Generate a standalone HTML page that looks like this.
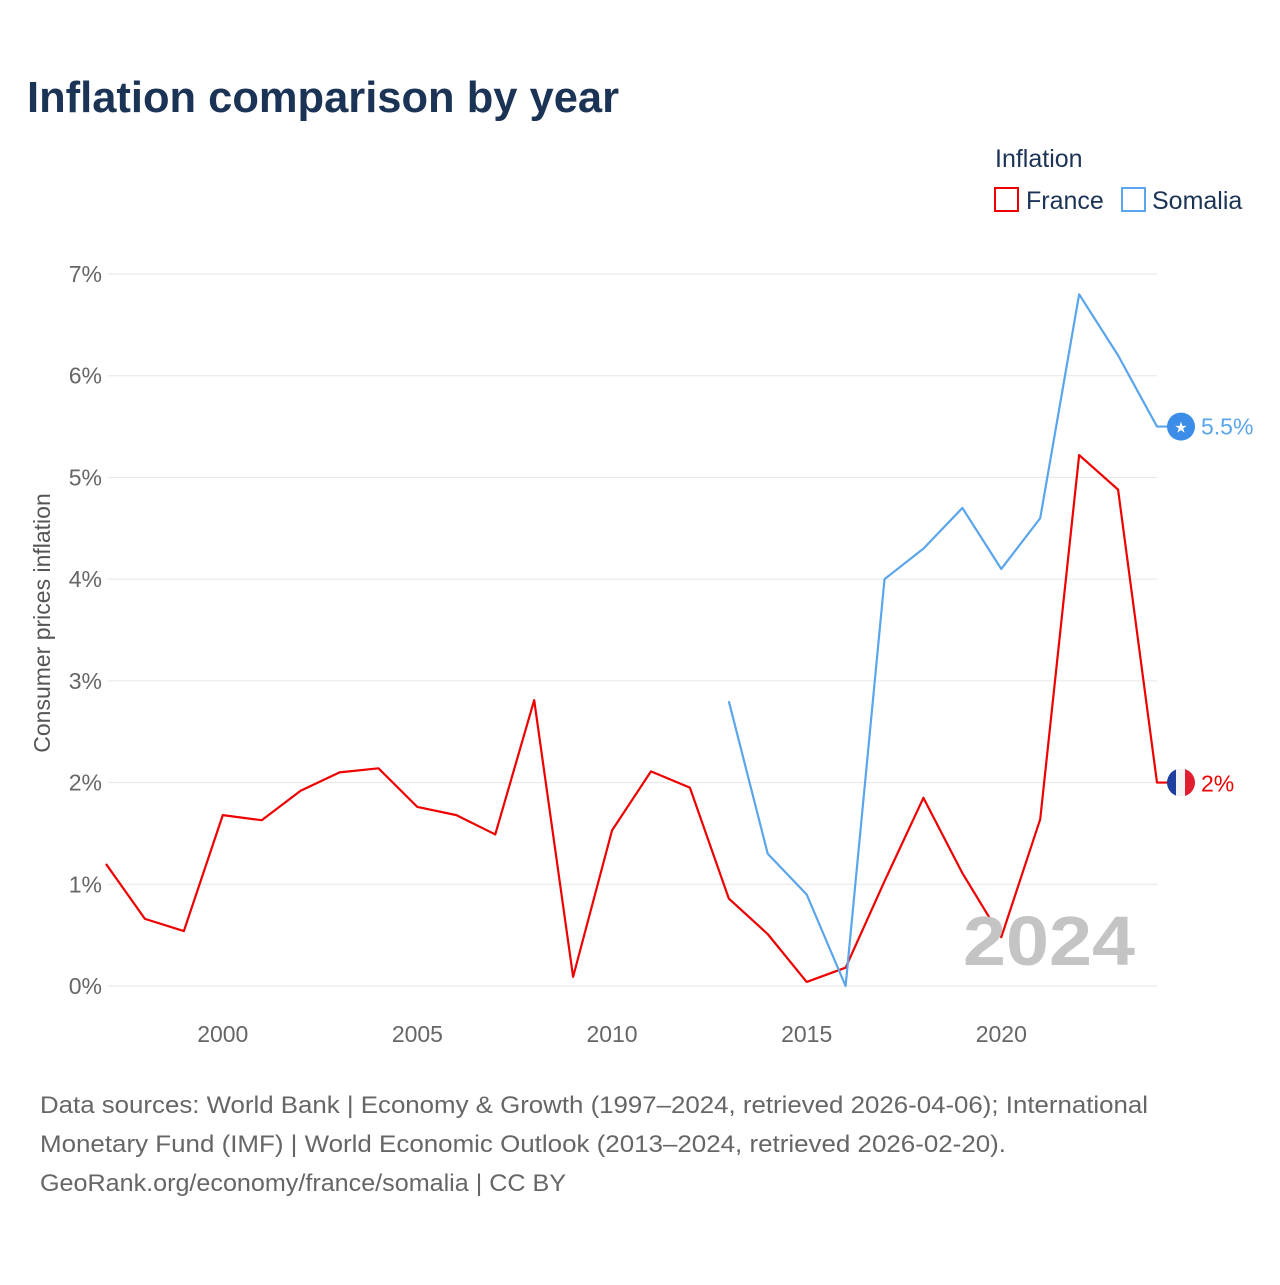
<!DOCTYPE html>
<html><head><meta charset="utf-8"><style>
body{margin:0;background:#fff;font-family:"Liberation Sans",sans-serif}
svg text{font-family:"Liberation Sans",sans-serif}
</style></head><body>
<svg id="c" width="1280" height="1280">
<text x="27" y="112" font-size="44" font-weight="bold" fill="#1b3355" textLength="592" lengthAdjust="spacingAndGlyphs">Inflation comparison by year</text>
<g>
<text x="995" y="167" font-size="25" fill="#1b3355">Inflation</text>
<g><rect x="995" y="188" width="23" height="23" fill="none" stroke="#ee0000" stroke-width="2"/><text x="1026" y="209" font-size="25" fill="#1b3355">France</text></g>
<g><rect x="1122" y="188" width="23" height="23" fill="none" stroke="#5aa5eb" stroke-width="2"/><text x="1152" y="209" font-size="25" fill="#1b3355">Somalia</text></g>
</g>
<text transform="translate(50,623) rotate(-90)" text-anchor="middle" font-size="23" fill="#555">Consumer prices inflation</text>
<g id="grid"></g><g id="marks"></g>
<text x="963" y="965" font-size="70" font-weight="bold" fill="#c4c4c4" textLength="172" lengthAdjust="spacingAndGlyphs">2024</text>
<g font-size="24" fill="#666">
<text x="40" y="1113" textLength="1108" lengthAdjust="spacingAndGlyphs">Data sources: World Bank | Economy &amp; Growth (1997–2024, retrieved 2026-04-06); International</text>
<text x="40" y="1152" textLength="966" lengthAdjust="spacingAndGlyphs">Monetary Fund (IMF) | World Economic Outlook (2013–2024, retrieved 2026-02-20).</text>
<text x="40" y="1191" textLength="526" lengthAdjust="spacingAndGlyphs">GeoRank.org/economy/france/somalia | CC BY</text>
</g>
</svg>
<script>
const franceYears=[1997,1998,1999,2000,2001,2002,2003,2004,2005,2006,2007,2008,2009,2010,2011,2012,2013,2014,2015,2016,2017,2018,2019,2020,2021,2022,2023,2024];
const franceValues=[1.20,0.66,0.54,1.68,1.63,1.92,2.10,2.14,1.76,1.68,1.49,2.81,0.09,1.53,2.11,1.95,0.86,0.51,0.04,0.18,1.03,1.85,1.11,0.48,1.64,5.22,4.88,2.0];
const somaliaYears=[2013,2014,2015,2016,2017,2018,2019,2020,2021,2022,2023,2024];
const somaliaValues=[2.8,1.3,0.9,0.0,4.0,4.3,4.7,4.1,4.6,6.8,6.2,5.5];
const yTicks=[0,1,2,3,4,5,6,7];
const xTicks=[2000,2005,2010,2015,2020];
const NS="http://www.w3.org/2000/svg";
const X=y=>106+(y-1997)*(1157-106)/27;
const Y=v=>986-v*(986-274)/7;
const grid=document.getElementById('grid'),marks=document.getElementById('marks');
function mk(tag,attrs,parent){const e=document.createElementNS(NS,tag);for(const k in attrs)e.setAttribute(k,attrs[k]);parent.appendChild(e);return e;}
yTicks.forEach(t=>{
 const l=mk('line',{x1:108,x2:1157,y1:Y(t),y2:Y(t),stroke:'#e6e6e6','stroke-width':1},grid);
 
 
 const tx=mk('text',{x:102,y:Y(t)+8,'text-anchor':'end','font-size':23,fill:'#666'},grid);
 tx.textContent=t+'%';
 
 
});
xTicks.forEach(t=>{
 const tx=mk('text',{x:X(t),y:1042,'text-anchor':'middle','font-size':23,fill:'#666'},grid);
 tx.textContent=t;
 
 
});
function series(years,vals,color,name){
 let d=years.map((y,i)=>(i?'L':'M')+X(y)+','+Y(vals[i])).join(' ');
 d+=' L'+(X(years[years.length-1])+13)+','+Y(vals[vals.length-1]);
 const p=mk('path',{d:d,fill:'none',stroke:color,'stroke-width':2.2,'stroke-linejoin':'round'},marks);
 
 
}
series(franceYears,franceValues,'#ee0000','france');
series(somaliaYears,somaliaValues,'#5aa5eb','somalia');
const fy=Y(franceValues[franceValues.length-1]);
const fg=mk('g',{},marks);


mk('clipPath',{id:'fc'},fg).appendChild(document.createElementNS(NS,'circle'));
const cc=fg.querySelector('clipPath circle');cc.setAttribute('cx',1181);cc.setAttribute('cy',fy);cc.setAttribute('r',14);
mk('rect',{x:1167,y:fy-14,width:10,height:28,fill:'#1f3fa0','clip-path':'url(#fc)'},fg);
mk('rect',{x:1176,y:fy-14,width:10,height:28,fill:'#f4f4f4','clip-path':'url(#fc)'},fg);
mk('rect',{x:1185,y:fy-14,width:11,height:28,fill:'#e01e30','clip-path':'url(#fc)'},fg);
const ft=mk('text',{x:1201,y:fy+9,'font-size':23,fill:'#ee0000'},fg);ft.textContent=franceValues[franceValues.length-1]+'%';
const sy=Y(somaliaValues[somaliaValues.length-1]);
const sg=mk('g',{},marks);


mk('circle',{cx:1181,cy:sy,r:14,fill:'#3b8de8'},sg);
const st=mk('text',{x:1181,y:sy+6,'text-anchor':'middle','font-size':15,fill:'#fff'},sg);st.textContent='★';
const sl=mk('text',{x:1201,y:sy+8,'font-size':23,fill:'#5aa5eb'},sg);sl.textContent=somaliaValues[somaliaValues.length-1]+'%';
</script>
</body></html>
